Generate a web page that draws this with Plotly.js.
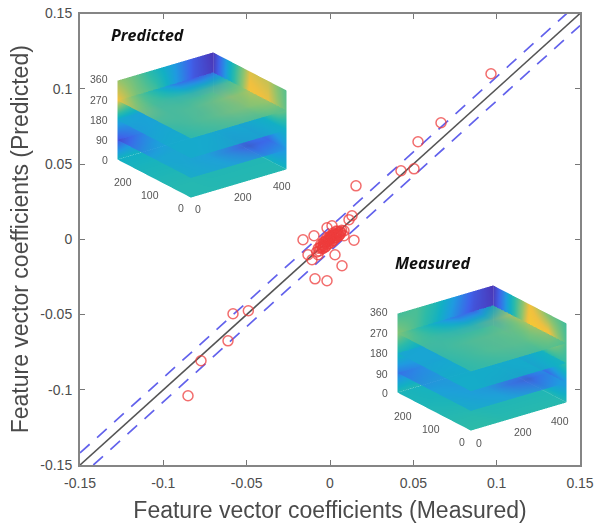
<!DOCTYPE html>
<html><head><meta charset="utf-8">
<script src="https://cdn.plot.ly/plotly-3.0.1.min.js"></script>
<style>html,body{margin:0;padding:0;background:#fff}#c{width:594px;height:523px}</style>
</head><body><div id="c"></div>
<script>
const tickVals=[-0.15,-0.1,-0.05,0,0.05,0.1,0.15];
const tickText=['-0.15','-0.1','-0.05','0','0.05','0.1','0.15'];
const measured=[0.0966,0.0666,0.0528,0.0504,0.0426,0.0156,0.0144,0.0132,0.0114,-0.0582,-0.049,-0.0612,-0.0774,-0.0852,-0.009,-0.0018,0.0072,0.003,-0.0162,-0.0096,-0.0018,0.0012,-0.0132,-0.0108,-0.0072,0.0084,0.0084,
-0.006,-0.005,-0.004,-0.003,-0.002,-0.001,0,0.001,0.002,0.003,0.004,0.005,0.006,0.007,-0.004,-0.002,0,0.002,0.004,-0.008,-0.007,0.001,0.003,-0.003,
-0.0055,-0.0045,-0.0035,-0.0025,-0.0015,-0.0005,0.0005,0.0015,0.0025,0.0035,0.0045,0.0055,-0.0042,-0.0028,-0.0012,0.0008,0.0022,0.0038,0.0052,0.0065,-0.0065,-0.0038,-0.0008,0.0018,0.0042,0.0062];
const predicted=[0.110,0.0774,0.0648,0.0468,0.0455,0.0355,-0.0006,0.0156,0.013,-0.0495,-0.0475,-0.0675,-0.0807,-0.104,-0.0263,-0.0276,-0.0176,-0.0103,-0.0003,0.0023,0.0076,0.0089,-0.0103,-0.0136,-0.0103,0.0056,0.0023,
-0.0055,-0.005,-0.0042,-0.003,-0.002,-0.0012,0,0.0012,0.002,0.0028,0.0035,0.0042,0.005,0.006,-0.0018,0.0006,0.002,0.0042,0.0012,-0.0085,-0.006,-0.002,0.0008,-0.0052,
-0.0035,-0.0062,-0.0022,-0.0048,-0.0008,-0.0028,0.0014,-0.001,0.0032,0.0012,0.0052,0.0028,-0.0058,-0.0012,-0.0032,0.0022,-0.0006,0.0054,0.0022,0.0046,-0.0078,-0.0036,0.0006,0.0005,0.0028,0.0036];
const identity=[-0.15,0.15];
const upperBand=[-0.142,0.15];
const lowerBand=[-0.15,0.142];
const bandX=[-0.15,0.142];
const bandX2=[-0.142,0.15];

const gridX=[0,90,180,270,360,450];
const gridY=[0,70,140,210,280];
const gridZ=[0,90,180,270,360];
const levels=[0,90,180,270];
const corner3d={x:[0,450],y:[0,280],z:[0,360]};

const predPlanes=[
 [[.47,.47,.47,.47,.47,.47],[.47,.47,.46,.46,.46,.46],[.45,.45,.45,.45,.45,.46],[.43,.43,.43,.44,.44,.44],[.40,.40,.42,.42,.42,.42]],
 [[.36,.34,.32,.28,.24,.30],[.36,.33,.30,.20,.08,.18],[.33,.34,.33,.28,.18,.26],[.20,.29,.34,.34,.31,.33],[.06,.20,.31,.35,.36,.36]],
 [[.38,.38,.38,.38,.38,.38],[.38,.38,.38,.37,.38,.40],[.36,.37,.37,.38,.38,.38],[.34,.35,.35,.36,.38,.40],[.36,.34,.34,.36,.38,.40]],
 [[.52,.55,.58,.60,.60,.58],[.54,.58,.62,.68,.72,.68],[.60,.58,.60,.66,.74,.72],[.74,.58,.54,.52,.56,.60],[.86,.60,.40,.18,.14,.22]]
];
const predWallBack=[
 [.42,.42,.42,.42,.40,.40],[.12,.22,.32,.34,.30,.24],[.36,.34,.34,.34,.30,.28],[.86,.66,.54,.32,.12,.03],[.72,.60,.44,.30,.12,.01]
];
const predWallSide=[
 [.42,.42,.42,.42,.40],[.30,.16,.20,.24,.24],[.40,.40,.40,.36,.28],[.60,.84,.88,.44,.03],[.58,.78,.82,.42,.01]
];
const measPlanes=[
 [[.50,.50,.48,.48,.48,.48],[.48,.48,.46,.46,.46,.46],[.46,.45,.44,.44,.44,.44],[.44,.43,.42,.42,.42,.42],[.44,.42,.42,.42,.42,.42]],
 [[.36,.34,.32,.28,.24,.34],[.34,.31,.28,.16,.10,.26],[.31,.29,.29,.26,.24,.33],[.24,.27,.29,.31,.33,.35],[.18,.24,.31,.35,.36,.38]],
 [[.40,.40,.40,.40,.40,.40],[.40,.40,.40,.39,.39,.40],[.38,.38,.38,.38,.38,.40],[.36,.36,.38,.38,.40,.42],[.34,.34,.36,.38,.40,.42]],
 [[.52,.54,.56,.58,.58,.56],[.52,.56,.60,.62,.64,.62],[.54,.57,.60,.62,.66,.70],[.58,.55,.52,.52,.60,.80],[.66,.50,.34,.18,.18,.46]]
];
const measWallBack=[
 [.46,.46,.44,.44,.42,.42],[.22,.26,.28,.30,.30,.26],[.44,.40,.36,.34,.30,.24],[.68,.56,.42,.26,.10,.03],[.54,.56,.46,.30,.12,.01]
];
const measWallSide=[
 [.46,.46,.46,.46,.44],[.30,.18,.22,.26,.26],[.52,.50,.44,.38,.24],[.56,.88,.92,.42,.03],[.54,.66,.86,.42,.01]
];
const parula=[[0,'#4b35b5'],[.15,'#3f62ea'],[.3,'#1f9be0'],[.4,'#12b0c4'],[.5,'#2dbba8'],[.6,'#5ec08a'],[.7,'#8fc46f'],[.85,'#f0c040'],[1,'#fbd02a']];
const flat={ambient:1,diffuse:0,specular:0,roughness:1,fresnel:0};

function surf(scene,x,y,z,c,op){
  return {type:'surface',scene,x,y,z,surfacecolor:c,cmin:0,cmax:1,colorscale:parula,showscale:false,opacity:op,lighting:flat,hoverinfo:'skip'};
}
function insetTraces(scene,planes,wallBack,wallSide){
  const t=[];
  const xMax=gridX[gridX.length-1], yMax=gridY[gridY.length-1];
  t.push(surf(scene,gridZ.map(()=>gridX),gridZ.map(()=>gridX.map(()=>yMax)),gridZ.map(v=>gridX.map(()=>v)),wallBack,1));
  t.push(surf(scene,gridZ.map(()=>gridY.map(()=>xMax)),gridZ.map(()=>gridY),gridZ.map(v=>gridY.map(()=>v)),wallSide,1));
  levels.forEach((lv,i)=>{
    t.push(surf(scene,gridX,gridY,gridY.map(()=>gridX.map(()=>lv)),planes[i],i===0?1:0.8));
  });
  return t;
}
const data=[
 ...insetTraces('scene',predPlanes,predWallBack,predWallSide),
 ...insetTraces('scene2',measPlanes,measWallBack,measWallSide),
 {type:'scatter',mode:'lines',x:identity,y:identity,line:{color:'#555555',width:1.6},hoverinfo:'skip'},
 {type:'scatter',mode:'lines',x:bandX,y:upperBand,line:{color:'#6262ec',width:1.7,dash:'13px 10px'},hoverinfo:'skip'},
 {type:'scatter',mode:'lines',x:bandX2,y:lowerBand,line:{color:'#6262ec',width:1.7,dash:'13px 10px'},hoverinfo:'skip'},
 {type:'scatter',mode:'markers',x:measured,y:predicted,marker:{symbol:'circle-open',size:10,color:'rgba(238,60,60,0.75)',line:{width:1.5}}}
];
const W=594,H=523;
const fx=p=>p/W, fy=p=>1-p/H;
const axisBase={range:[-0.15,0.15],tickvals:tickVals,ticktext:tickText,ticks:'inside',ticklen:5,tickcolor:'#777',tickwidth:1.2,
  showline:true,linecolor:'#858585',linewidth:2,mirror:'ticks',zeroline:false,showgrid:false,
  tickfont:{family:'"Liberation Sans",Arial,sans-serif',size:14,color:'#4d4d4d'}};
const titleFont={family:'"Liberation Sans",Arial,sans-serif',size:23,color:'#4a4a4a'};
const sceneBase={
  xaxis:{visible:false,range:corner3d.x},yaxis:{visible:false,range:corner3d.y},zaxis:{visible:false,range:corner3d.z},
  aspectmode:'manual',aspectratio:{x:1.09,y:1.11,z:0.78},
  bgcolor:'rgba(0,0,0,0)',
  camera:{projection:{type:'orthographic'},eye:{x:-0.95,y:-1.26,z:0.67},center:{x:0,y:0,z:0},up:{x:0,y:0,z:1}}
};
const lab=(t,px,py,anchor)=>({text:t,xref:'paper',yref:'paper',x:fx(px),y:fy(py),xanchor:anchor||'center',yanchor:'middle',showarrow:false,
  font:{family:'"Liberation Sans",Arial,sans-serif',size:10.5,color:'#555'}});
const head=(t,px,py)=>({text:'<b><i>'+t+'</i></b>',xref:'paper',yref:'paper',x:fx(px),y:fy(py),xanchor:'center',yanchor:'middle',showarrow:false,
  font:{family:'"Open Sans",sans-serif',size:16,color:'#111'}});
const layout={
  width:W,height:H,margin:{l:0,r:0,t:0,b:0},paper_bgcolor:'#fff',plot_bgcolor:'#fff',showlegend:false,
  xaxis:{...axisBase,domain:[fx(80),fx(580)],ticklabelstandoff:4,title:{text:'Feature vector coefficients (Measured)',font:titleFont,standoff:12}},
  yaxis:{...axisBase,domain:[fy(465),fy(13.5)],ticklabelstandoff:3,title:{text:'Feature vector coefficients (Predicted)',font:titleFont,standoff:5}},
  scene:{...sceneBase,domain:{x:[fx(91.5),fx(311.5)],y:[fy(235),fy(15)]}},
  scene2:{...sceneBase,domain:{x:[fx(372),fx(592)],y:[fy(468),fy(248)]}},
  annotations:[
   head('Predicted',147,35),head('Measured',432,263),
   lab('360',110,79,'right'),lab('270',110,100,'right'),lab('180',110,120,'right'),lab('90',110,140,'right'),lab('0',110,160,'right'),
   lab('200',123,182),lab('100',150,195),lab('0',181,208),lab('0',198,209),lab('200',243,197),lab('400',282,186),
   lab('360',390,312,'right'),lab('270',390,333,'right'),lab('180',390,353,'right'),lab('90',390,374,'right'),lab('0',390,393,'right'),
   lab('200',403,416),lab('100',431,429),lab('0',462,442),lab('0',479,443),lab('200',523,432),lab('400',560,421)
  ]
};
Plotly.newPlot('c',data,layout,{displayModeBar:false});
</script></body></html>
